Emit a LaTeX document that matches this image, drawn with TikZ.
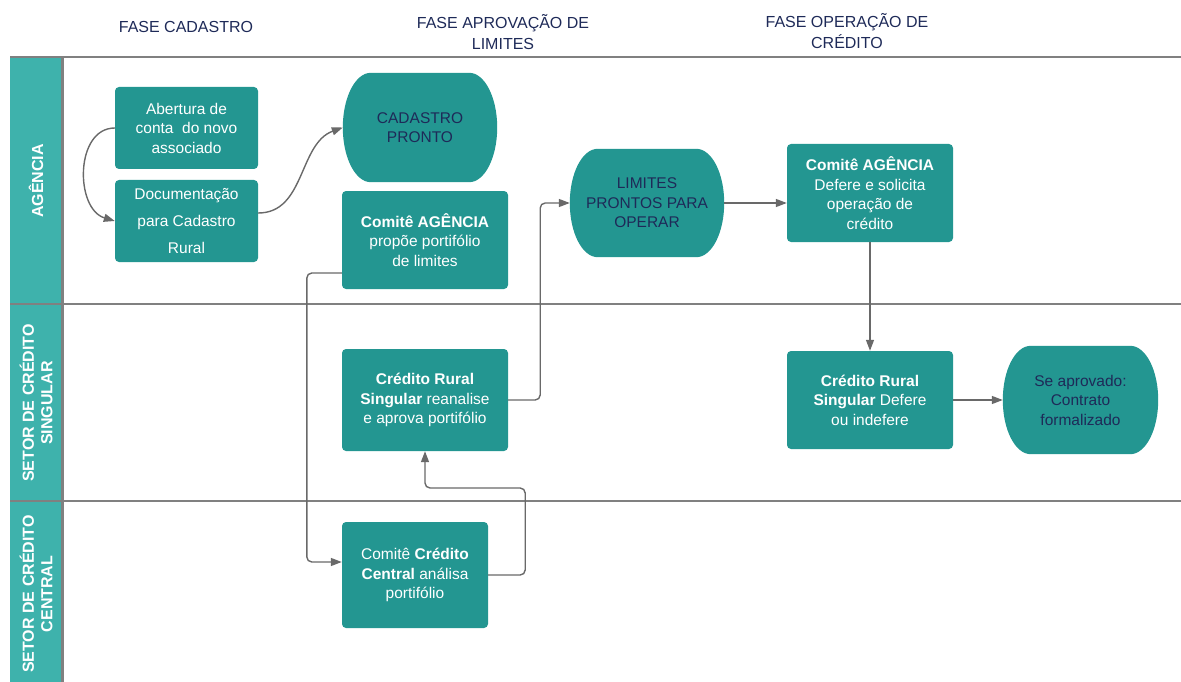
\documentclass[tikz,border=0pt]{standalone}
\usepackage{fontspec}
\setmainfont{Liberation Sans}
\usetikzlibrary{arrows.meta,calc}
\definecolor{BoxClr}{RGB}{35,150,145}
\definecolor{LaneClr}{RGB}{62,178,172}
\definecolor{NavyClr}{RGB}{30,42,88}
\definecolor{LineClr}{RGB}{105,105,105}
\pgfdeclarelayer{bg}
\pgfsetlayers{bg,main}

\newcommand\PillFill[1]{%
  \fill[BoxClr] ([xshift=28pt]#1.north west) -- ([xshift=-28pt]#1.north east)
    .. controls ([xshift=-12.5pt]#1.north east) and ([yshift=30pt]#1.east) .. (#1.east)
    .. controls ([yshift=-30pt]#1.east) and ([xshift=-12.5pt]#1.south east) .. ([xshift=-28pt]#1.south east)
    -- ([xshift=28pt]#1.south west)
    .. controls ([xshift=12.5pt]#1.south west) and ([yshift=-30pt]#1.west) .. (#1.west)
    .. controls ([yshift=30pt]#1.west) and ([xshift=12.5pt]#1.north west) .. cycle;}

\tikzset{
  box/.style={fill=BoxClr,rounded corners=4pt,text=white,align=center,inner sep=0pt,
    font=\fontsize{15.5}{19.5}\selectfont},
  pill/.style={text=NavyClr,align=center,inner sep=0pt,
    font=\fontsize{15.5}{19.5}\selectfont},
  head/.style={text=NavyClr,align=center,font=\fontsize{16}{20.5}\selectfont},
  lanetxt/.style={rotate=90,text=white,align=center,font=\fontsize{16}{18.5}\selectfont\bfseries},
  lane/.style={draw=LineClr!85,line width=2.6pt},
  link/.style={draw=LineClr,line width=1.4pt,-{Triangle[length=11pt,width=8pt]},rounded corners=5pt}
}

\begin{document}
\begin{tikzpicture}[x=1pt,y=-1pt]
\useasboundingbox (0,0) rectangle (1181,682);

\fill[LaneClr] (10,57) rectangle (61,682);
\draw[lane] (10,57) -- (1181,57);
\draw[lane] (10,304) -- (1181,304);
\draw[lane] (10,501) -- (1181,501);
\draw[lane] (62.5,57) -- (62.5,682);

\node[head] (F1) at (186,27) {FASE CADASTRO};
\node[head] (F2) at (503,32) {FASE APROVAÇÃO DE\\LIMITES};
\node[head] (F3) at (847,31) {FASE OPERAÇÃO DE\\CRÉDITO};

\node[lanetxt] (L1) at (36,181) {AGÊNCIA};
\node[lanetxt] (L2) at (36,403) {SETOR DE CRÉDITO\\SINGULAR};
\node[lanetxt] (L3) at (36,594) {SETOR DE CRÉDITO\\CENTRAL};

\node[box,minimum width=143pt,minimum height=82pt] (Ab) at (186.5,128)
  {Abertura de\\conta\ \ do novo\\associado};
\node[box,minimum width=143pt,minimum height=82pt,font=\fontsize{15.5}{27}\selectfont] (Doc) at (186.5,221)
  {Documentação\\para Cadastro\\Rural};
\node[pill,minimum width=154pt,minimum height=109pt] (CadP) at (420,127.5)
  {CADASTRO\\PRONTO};
\node[box,minimum width=166pt,minimum height=98pt] (ComA) at (425,240)
  {\textbf{Comitê AGÊNCIA}\\propõe portifólio\\de limites};
\node[pill,minimum width=154pt,minimum height=108pt] (LimP) at (647,203)
  {LIMITES\\PRONTOS PARA\\OPERAR};
\node[box,minimum width=166pt,minimum height=98pt] (ComB) at (870,193)
  {\textbf{Comitê AGÊNCIA}\\Defere e solicita\\operação de\\crédito};
\node[box,minimum width=166pt,minimum height=102pt] (CrS) at (425,400)
  {\textbf{Crédito Rural}\\\textbf{Singular} reanalise\\e aprova portifólio};
\node[box,minimum width=166pt,minimum height=98pt] (CrD) at (870,400)
  {\textbf{Crédito Rural}\\\textbf{Singular} Defere\\ou indefere};
\node[pill,minimum width=155pt,minimum height=108pt] (Ctr) at (1080.5,400)
  {Se aprovado:\\Contrato\\formalizado};
\node[box,minimum width=146pt,minimum height=106pt] (CrC) at (415,575)
  {Comitê \textbf{Crédito}\\\textbf{Central} análisa\\portifólio};

\begin{pgfonlayer}{bg}
\PillFill{CadP}
\PillFill{LimP}
\PillFill{Ctr}
\end{pgfonlayer}

\draw[link] (Ab.west) .. controls +(-40,0) and +(-40,-12) .. (Doc.west);
\draw[link] ([yshift=8pt]Doc.east) to[out=0,in=200] (CadP.west);
\draw[link] ([yshift=-33pt]ComA.west) -- ++(-35,0) |- ([yshift=13pt]CrC.west);
\draw[link] (CrC.east) -- ++(37,0) -- ++(0,-87) -| (CrS.south);
\draw[link] (CrS.east) -- ++(32,0) |- (LimP.west);
\draw[link] (LimP.east) -- (LimP.east -| ComB.west);
\draw[link] (ComB.south) -- (CrD.north);
\draw[link] (CrD.east) -- (Ctr.west);

\end{tikzpicture}
\end{document}
